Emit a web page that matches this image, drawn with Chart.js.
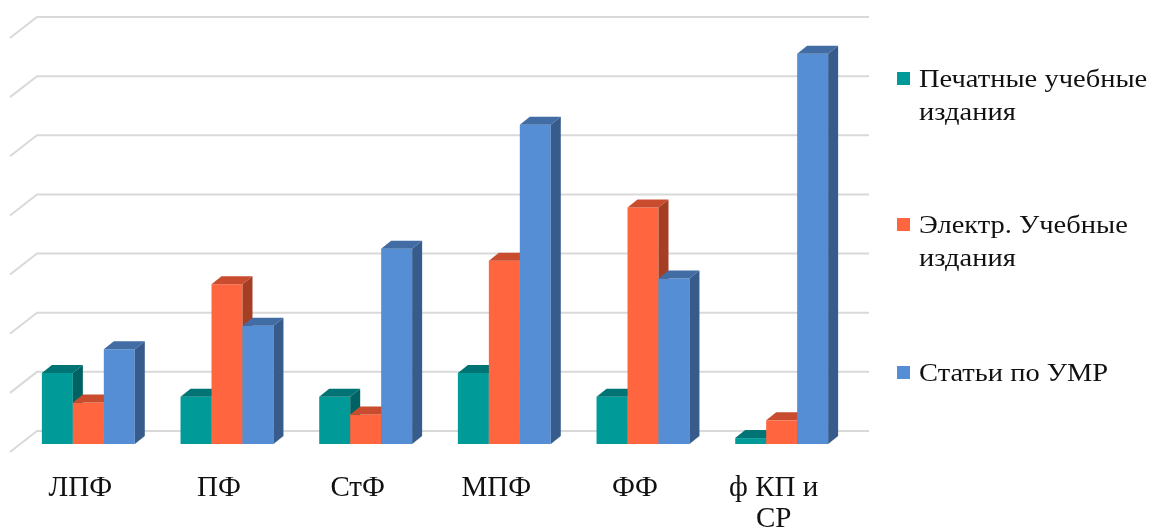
<!DOCTYPE html>
<html lang="ru">
<head>
  <meta charset="UTF-8" />
  <title>Учебно-методическая работа по факультетам</title>
  <script src="https://cdn.jsdelivr.net/npm/chart.js"></script>
  <style>
    body { margin: 0; background: #fff; font-family: "Liberation Serif", serif; }
    .wrap { position: relative; width: 1156px; height: 529px; }
    #chart { position: absolute; left: 0; top: 0; }
    /* legend on the right, drawn as plain html */
    .legend-item { position: absolute; left: 897px; font-size: 25px; line-height: 33px; color: #111; white-space: nowrap; }
    .legend-item .box { position: absolute; left: 0; top: 10px; width: 13px; height: 13px; }
    .legend-item .txt { margin-left: 22px; transform: scaleX(1.14); transform-origin: left center; }
  </style>
</head>
<body>
  <div class="wrap">
    <canvas id="chart" width="1156" height="529"></canvas>
    <div id="legend"></div>
  </div>

  <script>
    // categories (faculties)
    const faculties = ['ЛПФ', 'ПФ', 'СтФ', 'МПФ', 'ФФ', ['ф КП и', 'СР']];

    // series
    const seriesNames = [
      ['Печатные учебные', 'издания'],
      ['Электр. Учебные', 'издания'],
      ['Статьи по УМР']
    ];
    const printed    = [6, 4, 4, 6, 4, 0.5];
    const electronic = [3.5, 13.5, 2.5, 15.5, 20, 2];
    const articles   = [8, 10, 16.5, 27, 14, 33];

    // value axis (labels are hidden in the original)
    const yTicks = [0, 5, 10, 15, 20, 25, 30, 35];

    // colours: front, top, side
    const palette = [
      { front: '#009a98', top: '#007474', side: '#006262' },
      { front: '#ff653f', top: '#c94c2e', side: '#a53f24' },
      { front: '#558ed5', top: '#416ca4', side: '#375c8b' }
    ];

    // depth of the bars and offset of the back wall
    const BAR_DX = 10, BAR_DY = 8;
    const WALL_DX = 18, WALL_DY = 13;
    const FLOOR_DX = 27, FLOOR_DY = 21;

    const bars3d = {
      id: 'bars3d',
      // back wall grid with the slanted left edge
      beforeDatasetsDraw(chart) {
        const ctx = chart.ctx;
        const area = chart.chartArea;
        const yScale = chart.scales.y;
        ctx.save();
        ctx.strokeStyle = '#d9d9d9';
        ctx.lineWidth = 2;
        yTicks.forEach(v => {
          const yy = yScale.getPixelForValue(v) - WALL_DY;
          const x0 = area.left + WALL_DX;
          ctx.beginPath();
          ctx.moveTo(x0 - FLOOR_DX, yy + FLOOR_DY);
          ctx.lineTo(x0, yy);
          ctx.lineTo(area.right + WALL_DX, yy);
          ctx.stroke();
        });
        ctx.restore();
      },
      // skip the default drawing, bars are painted below in series order
      beforeDatasetDraw() { return false; },
      afterDatasetsDraw(chart) {
        const ctx = chart.ctx;
        chart.data.datasets.forEach((ds, i) => {
          const col = palette[i];
          chart.getDatasetMeta(i).data.forEach(bar => {
            const p = bar.getProps(['x', 'y', 'base', 'width'], true);
            const x0 = p.x - p.width / 2, x1 = p.x + p.width / 2;
            ctx.save();
            bar.draw(ctx);
            // top
            ctx.fillStyle = col.top;
            ctx.beginPath();
            ctx.moveTo(x0, p.y);
            ctx.lineTo(x1, p.y);
            ctx.lineTo(x1 + BAR_DX, p.y - BAR_DY);
            ctx.lineTo(x0 + BAR_DX, p.y - BAR_DY);
            ctx.closePath();
            ctx.fill();
            // side
            ctx.fillStyle = col.side;
            ctx.beginPath();
            ctx.moveTo(x1, p.y);
            ctx.lineTo(x1 + BAR_DX, p.y - BAR_DY);
            ctx.lineTo(x1 + BAR_DX, p.base - BAR_DY);
            ctx.lineTo(x1, p.base);
            ctx.closePath();
            ctx.fill();
            ctx.restore();
          });
        });
      }
    };

    const seriesValues = [printed, electronic, articles];

    new Chart(document.getElementById('chart'), {
      type: 'bar',
      data: {
        labels: faculties,
        datasets: seriesValues.map((vals, i) => ({
          label: seriesNames[i].join(' '),
          data: vals,
          backgroundColor: palette[i].front,
          borderWidth: 0,
          categoryPercentage: 0.67,
          barPercentage: 1.0
        }))
      },
      options: {
        responsive: false,
        animation: false,
        layout: { padding: { left: 19, right: 305, top: 30, bottom: 0 } },
        plugins: { legend: { display: false }, tooltip: { enabled: false } },
        scales: {
          x: {
            grid: { display: false },
            border: { display: false },
            ticks: {
              color: '#111',
              font: { family: 'Liberation Serif', size: 29, lineHeight: 1.1 },
              padding: 20,
              labelOffset: -8,
              maxRotation: 0
            },
            afterFit(scale) { scale.height = 85; }
          },
          y: {
            display: false,
            min: 0,
            max: 35,
            ticks: { stepSize: 5 }
          }
        }
      },
      plugins: [bars3d]
    });

    // legend
    const legendTops = [62, 208, 356];
    const legend = document.getElementById('legend');
    seriesNames.forEach((lines, i) => {
      const item = document.createElement('div');
      item.className = 'legend-item';
      item.style.top = legendTops[i] + 'px';
      item.innerHTML = `<span class="box" style="background:${palette[i].front}"></span>` +
        `<div class="txt">${lines.join('<br>')}</div>`;
      legend.appendChild(item);
    });
  </script>
</body>
</html>
